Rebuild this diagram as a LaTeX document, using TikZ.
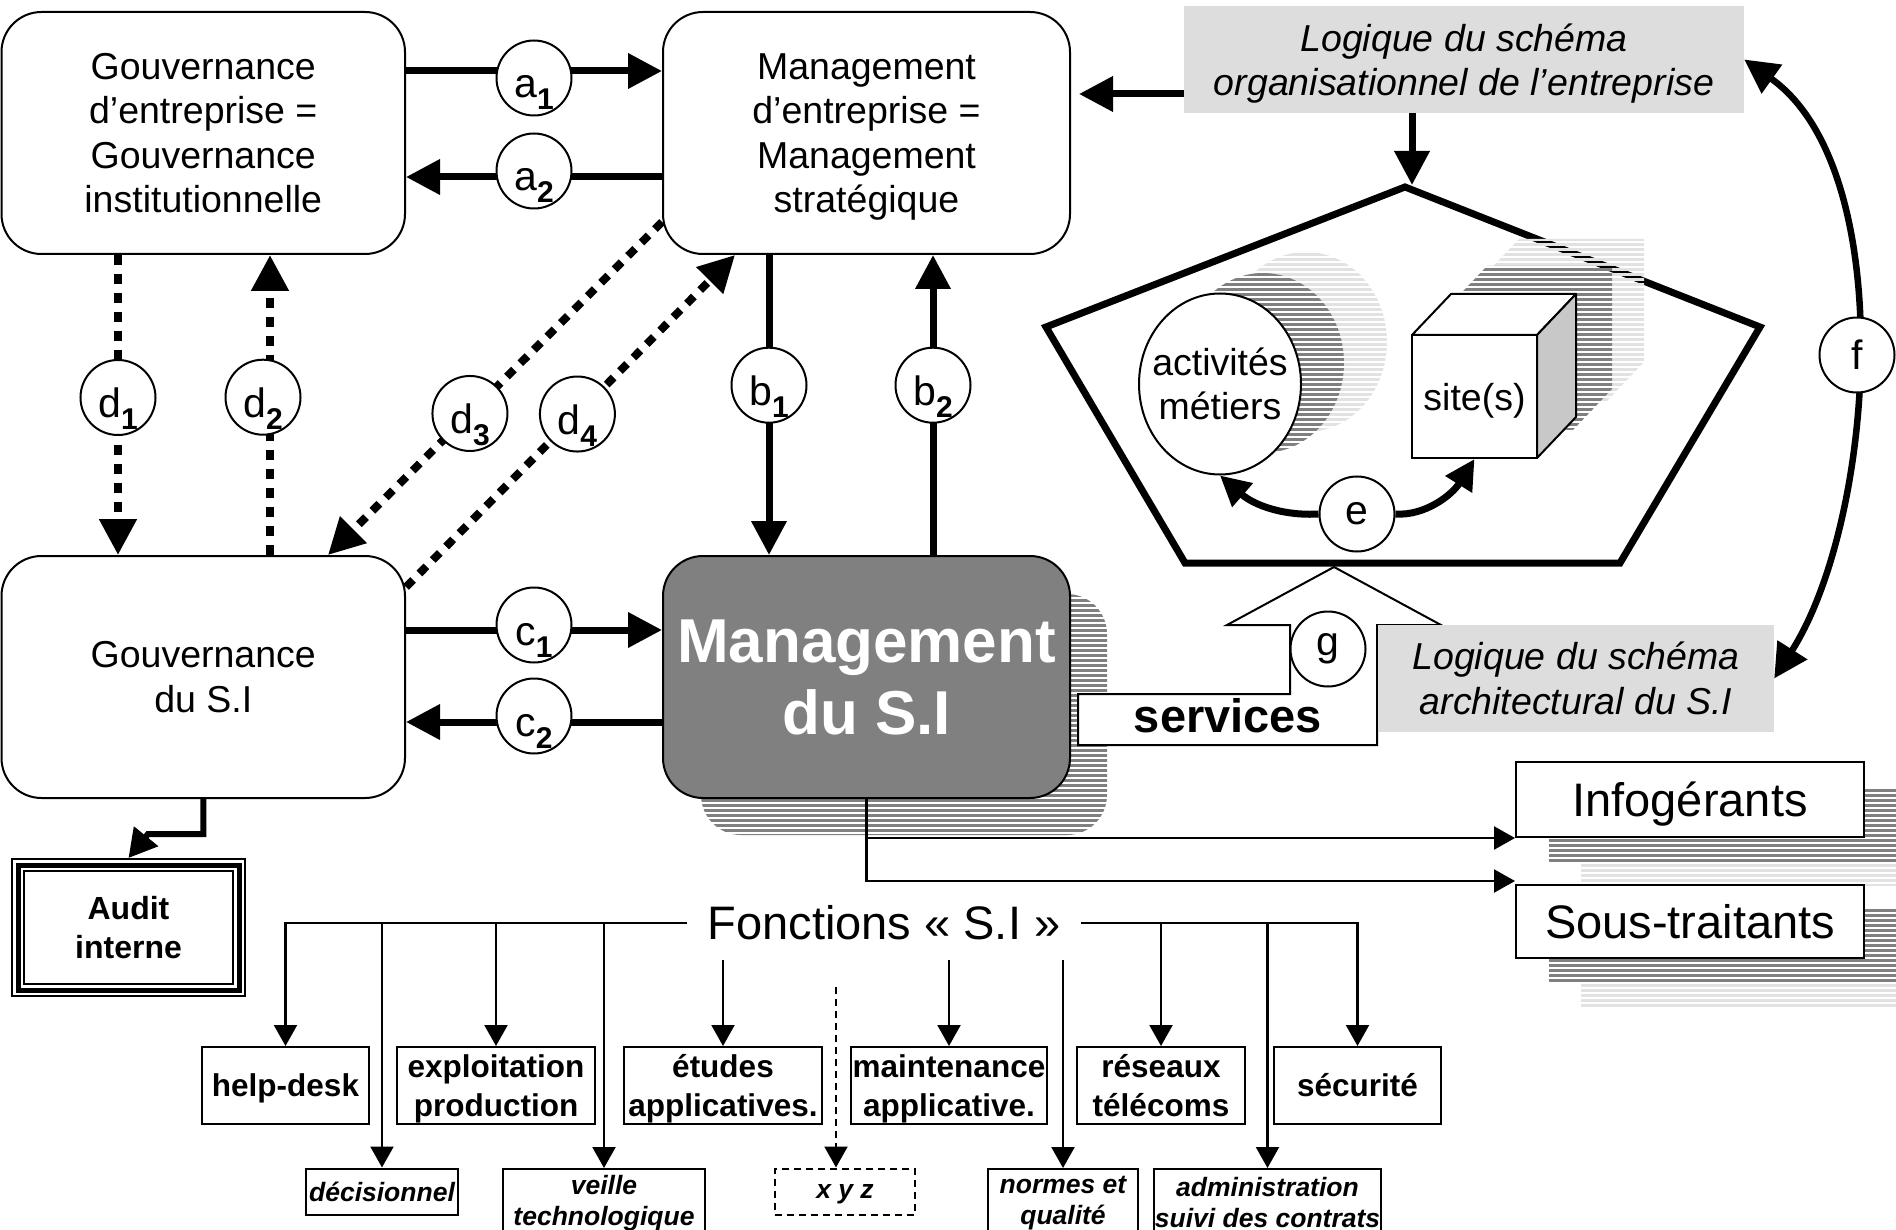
\documentclass[tikz,border=0pt]{standalone}
\usepackage{fontspec}
\setmainfont{Liberation Sans}
\usetikzlibrary{arrows.meta,shapes.geometric}

\definecolor{panelgray}{RGB}{221,221,221}
\definecolor{midgray}{RGB}{128,128,128}
\definecolor{palegray}{RGB}{226,226,226}
\definecolor{facegray}{RGB}{200,200,200}

\newcommand\fsz[2]{\fontsize{#1}{#2}\selectfont}
% letter with a bold, lowered index
\newcommand\sublbl[2]{#1\raisebox{-12pt}{\fsz{30}{30}\bfseries #2}}
% a line whose descenders do not count for centring
\newcommand\nodp[1]{\raisebox{0pt}[\height][0pt]{#1}}
% horizontal hatching inside a clipped region: path, colour, x-left, x-right, y-top
\newcommand\hatchfill[5]{%
  \begin{scope}
    \clip #1;
    \foreach \k in {0,...,55}
      \draw[#2,line width=3pt] (#3,#5+5*\k) -- (#4,#5+5*\k);
  \end{scope}}

\begin{document}
\begin{tikzpicture}[x=1pt,y=-1pt,
  every node/.style={inner sep=0pt},
  rbox/.style={draw, line width=2pt, rounded corners=40pt, fill=white, align=center,
    font=\fsz{37.5}{44.5}, minimum width=407pt, minimum height=242pt},
  panel/.style={fill=panelgray, align=center, font=\fsz{37.5}{44.5}\itshape},
  badge/.style={circle, draw, solid, line width=2pt, fill=white, minimum size=75pt, font=\fsz{41}{41}},
  subbadge/.style={badge, text height=40pt, text depth=0pt},
  heavy/.style={line width=7pt, -{Triangle[length=34pt,width=34pt]}},
  dotlink/.style={line width=8pt, dash pattern=on 10pt off 9pt, -{Triangle[length=36pt,width=36pt]}},
  feed/.style={line width=2.2pt, -{Triangle[length=21pt,width=23pt]}},
  fnbox/.style={draw, line width=2pt, fill=white, align=center, font=\fsz{31.5}{38.5}\bfseries,
    minimum height=77pt},
  fnsub/.style={draw, line width=2pt, fill=white, align=center, font=\fsz{26.5}{31}\bfseries\itshape},
  ext/.style={draw, line width=2pt, fill=white, font=\fsz{47}{47}, minimum width=348pt}
]
\useasboundingbox (0,0) rectangle (1896,1230);
\fill[white] (0,0) rectangle (1896,1230);
\clip (0,0) rectangle (1896,1230);

% ---- hatched drop shadows ----
\hatchfill{[rounded corners=40pt] (701,594) rectangle (1107,835)}{midgray}{690}{1110}{590}
\hatchfill{(1581,810) rectangle (1930,885)}{palegray}{1575}{1900}{810}
\hatchfill{(1549,787) rectangle (1930,862)}{midgray}{1545}{1900}{785}
\hatchfill{(1581,933) rectangle (1930,1006)}{palegray}{1575}{1900}{930}
\hatchfill{(1549,908) rectangle (1930,981)}{midgray}{1545}{1900}{905}

% ---- main management / governance boxes ----
\node[rbox, minimum width=403.5pt] (ge) at (203.25,133)
  {Gouvernance\\d’entreprise =\\Gouvernance\\institutionnelle};
\node[rbox] (me) at (866.5,133)
  {Management\\d’entreprise =\\Management\\\nodp{stratégique}};
\node[rbox, minimum width=403.5pt] (gsi) at (203.25,677) {Gouvernance\\du S.I};
\node[rbox, fill=midgray, text=white, font=\fsz{62}{72}\bfseries] (msi) at (866.5,677)
  {Management\\du S.I};

% ---- services arrow ----
\draw[line width=2pt, fill=white, line join=miter]
  (1078,694) -- (1290,694) -- (1290,625) -- (1227,625) -- (1334,567) -- (1441,625)
  -- (1377,625) -- (1377,745) -- (1078,745) -- cycle;
\node[font=\fsz{47}{47}\bfseries] (svc) at (1228,716) {services};

% ---- organisation pentagon ----
\draw[line width=7pt, line join=miter]
  (1405,187) -- (1760,327) -- (1620,563) -- (1185,563) -- (1046,327) -- cycle;

\hatchfill{(1306,342) ellipse [x radius=81pt, y radius=90pt]}{palegray}{1220}{1400}{250}
\hatchfill{(1263,363) ellipse [x radius=81pt, y radius=90pt]}{midgray}{1180}{1350}{270}
\hatchfill{[shift={(68,-55)}] (1412,458) -- (1412,335) -- (1451,294) -- (1576,294) -- (1576,417) -- (1537,458) -- cycle}{palegray}{1475}{1650}{235}
\hatchfill{[shift={(36,-28)}] (1412,458) -- (1412,335) -- (1451,294) -- (1576,294) -- (1576,417) -- (1537,458) -- cycle}{midgray}{1440}{1620}{265}

\node[ellipse, draw, line width=2pt, fill=white, inner xsep=-12pt, inner ysep=0pt,
  minimum width=162pt, minimum height=181pt,
  align=center, font=\fsz{37.5}{44.5}] (act) at (1220,384) {activités\\métiers};
\draw[line width=2pt, fill=white, line join=round]
  (1412,335) -- (1451,294) -- (1576,294) -- (1537,335) -- cycle;
\draw[line width=2pt, fill=facegray, line join=round]
  (1537,335) -- (1576,294) -- (1576,417) -- (1537,458) -- cycle;
\node[draw, line width=2pt, fill=white, minimum width=125pt, minimum height=123pt,
  font=\fsz{37.5}{44.5}] (site) at (1474.5,396.5) {\nodp{site(s)}};

\node[badge] (ce) at (1357,514) {e};
\draw[line width=7pt, -{Triangle[length=30pt,width=30pt]}]
  (ce.west) .. controls (1285,516) and (1255,506) .. (act.south);
\draw[line width=7pt, -{Triangle[length=30pt,width=30pt]}]
  (ce.east) .. controls (1425,516) and (1452,495) .. (site.south);

% ---- grey logic panels ----
\node[panel, minimum width=560pt, minimum height=107pt] (org) at (1464,59.5)
  {Logique du schéma\\\nodp{organisationnel de l’entreprise}};
\node[panel, minimum width=396pt, minimum height=107pt] (arch) at (1576,678.5)
  {Logique du schéma\\architectural du S.I};

% ---- outsourcing ----
\node[ext, minimum height=75pt] (infog) at (1690,799.5) {\nodp{Infogérants}};
\node[ext, minimum height=73pt] (sous) at (1690,921.5) {Sous-traitants};

% ---- internal audit ----
\node[draw, line width=2pt, minimum width=233pt, minimum height=137pt, align=center,
  font=\fsz{32}{39}\bfseries] (audit) at (128.5,927.5) {Audit\\interne};
\draw[line width=5pt] ([shift={(7,7)}]audit.north west) rectangle ([shift={(-7,-7)}]audit.south east);
\draw[line width=2pt] ([shift={(13,13)}]audit.north west) rectangle ([shift={(-13,-13)}]audit.south east);

% ---- IS functions ----
\node[font=\fsz{47}{47}, inner xsep=20pt] (fct) at (884,923) {Fonctions « S.I »};

\node[fnbox, minimum width=167pt] (hd)  at (285.5,1085.5) {\nodp{help-desk}};
\node[fnbox, minimum width=198pt] (exp) at (496,1085.5)   {exploitation\\\nodp{production}};
\node[fnbox, minimum width=198pt] (etu) at (723,1085.5)   {études\\\nodp{applicatives.}};
\node[fnbox, minimum width=196pt] (mai) at (949,1085.5)   {maintenance\\\nodp{applicative.}};
\node[fnbox, minimum width=168pt] (res) at (1161,1085.5)  {réseaux\\télécoms};
\node[fnbox, minimum width=167pt] (sec) at (1357.5,1085.5){sécurité};

\node[fnsub, minimum width=152pt, minimum height=46pt] (dec) at (382,1191.5) {décisionnel};
\node[fnsub, minimum width=202pt, minimum height=68pt] (vei) at (604,1203) {veille\\technologique};
\node[fnsub, minimum width=140pt, minimum height=46pt, dash pattern=on 7pt off 5pt] (xyz) at (845,1191.5) {\nodp{x y z}};
\node[fnsub, minimum width=150pt, minimum height=68pt] (nor) at (1063,1203) {normes et\\qualité};
\node[fnsub, minimum width=227pt, minimum height=68pt] (adm) at (1267.5,1203) {administration\\suivi des contrats};

% ---- reference levels for the connectors ----
\path (0,71) coordinate (ya1) (0,177) coordinate (ya2) (0,630) coordinate (yc1)
  (0,722) coordinate (yc2) (0,94) coordinate (yorg) (769,0) coordinate (xb1)
  (933,0) coordinate (xb2) (118,0) coordinate (xd1) (270,0) coordinate (xd2)
  (0,222) coordinate (yd3) (328,0) coordinate (xd3) (0,587) coordinate (yd4)
  (735,0) coordinate (xd4) (1412,0) coordinate (xorg) (0,960) coordinate (yfn)
  (836,987) coordinate (xyztop) (148,834) coordinate (audelbow) (1412,185) coordinate (ptop);

% ---- connectors ----
\draw[heavy] (ge.east |- ya1) -- node[subbadge, yshift=-7pt] (ca1) {\sublbl{a}{1}} (me.west |- ya1);
\draw[heavy] (me.west |- ya2) -- node[subbadge, yshift=6pt] (ca2) {\sublbl{a}{2}} (ge.east |- ya2);
\draw[heavy] (me.south -| xb1) -- node[subbadge, pos=0.434] (cb1) {\sublbl{b}{1}} (msi.north -| xb1);
\draw[heavy] (msi.north -| xb2) -- node[subbadge, pos=0.566] (cb2) {\sublbl{b}{2}} (me.south -| xb2);
\draw[heavy] (gsi.east |- yc1) -- node[subbadge, yshift=5pt] (cc1) {\sublbl{c}{1}} (msi.west |- yc1);
\draw[heavy] (msi.west |- yc2) -- node[subbadge, yshift=6pt] (cc2) {\sublbl{c}{2}} (gsi.east |- yc2);

\draw[dotlink] (ge.south -| xd1) -- node[subbadge, pos=0.475] (cd1) {\sublbl{d}{1}} (gsi.north -| xd1);
\draw[dotlink] (gsi.north -| xd2) -- node[subbadge, pos=0.526, xshift=-7pt] (cd2) {\sublbl{d}{2}} (ge.south -| xd2);
\draw[dotlink] (me.west |- yd3) -- node[subbadge, pos=0.575] (cd3) {\sublbl{d}{3}} (gsi.north -| xd3);
\draw[dotlink] (gsi.east |- yd4) -- node[subbadge, pos=0.521] (cd4) {\sublbl{d}{4}} (me.south -| xd4);

\draw[heavy, shorten >=8pt] (org.west |- yorg) -- (me.east |- yorg);
\draw[heavy] (org.south -| xorg) -- (ptop);

\draw[line width=6pt, -{Triangle[length=28pt,width=30pt]}] (gsi.south) |- (audelbow) -- (audit.north);

\draw[feed] (msi.south) |- (infog.south west);
\draw[feed] (msi.south) |- ([yshift=3pt]sous.north west);

\draw[line width=6.5pt, {Triangle[length=34pt,width=34pt]}-{Triangle[length=34pt,width=34pt]}]
  (arch.east) .. controls (1875,520) and (1900,170) .. (org.east);
\node[badge] (cf) at (1857,355) {f};
\node[badge] (cg) at (1328,649) {g};

% function tree
\draw[feed] (fct.west) -| (hd.north);
\draw[feed] (dec.north |- fct.west) -- (dec.north);
\draw[feed] (exp.north |- fct.west) -- (exp.north);
\draw[feed] (vei.north |- fct.west) -- (vei.north);
\draw[feed] (etu.north |- yfn) -- (etu.north);
\draw[feed] (mai.north |- yfn) -- (mai.north);
\draw[feed, dash pattern=on 7pt off 5pt] (xyztop) -- (xyztop |- xyz.north);
\draw[feed] (nor.north |- yfn) -- (nor.north);
\draw[feed] (fct.east) -| (sec.north);
\draw[feed] (res.north |- fct.east) -- (res.north);
\draw[feed] (adm.north |- fct.east) -- (adm.north);
\end{tikzpicture}
\end{document}
